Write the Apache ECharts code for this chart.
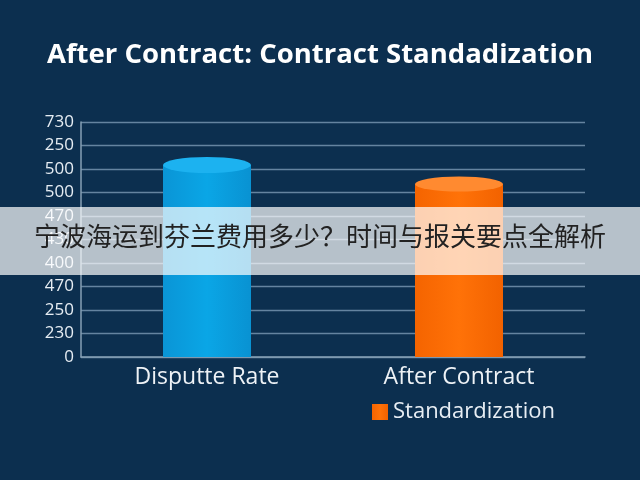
<!DOCTYPE html>
<html>
<head>
<meta charset="utf-8">
<script src="https://cdn.jsdelivr.net/npm/echarts@6/dist/echarts.min.js"></script>
<style>
html,body{margin:0;padding:0;background:#0c2f4f;}
#c{width:640px;height:480px;}
</style>
</head>
<body>
<div id="c"></div>
<script>
const titleText = 'After Contract: Contract Standadization';
const categories = ['Disputte Rate', 'After Contract'];
const yTickLabels = ['0', '230', '250', '470', '400', '430', '470', '500', '500', '250', '730'];
const disputeValues = [8.17, '-'];
const standardValues = ['-', 7.36];
const bannerText = '宁波海运到芬兰费用多少？时间与报关要点全解析';

const chart = echarts.init(document.getElementById('c'));
const barW = 88;
const blueGrad = new echarts.graphic.LinearGradient(0,0,1,0,[
  {offset:0,color:'#0a95d6'},{offset:0.5,color:'#0aa6e6'},{offset:1,color:'#0992d2'}]);
const orangeGrad = new echarts.graphic.LinearGradient(0,0,1,0,[
  {offset:0,color:'#f56400'},{offset:0.5,color:'#ff7208'},{offset:1,color:'#f26200'}]);
chart.setOption({
  backgroundColor:'#0c2f4f',
  title:{text:titleText,left:'center',top:36,
    textStyle:{color:'#ffffff',fontSize:27.5,fontWeight:'bold',fontFamily:'Open Sans'}},
  legend:{data:['Standardization'],left:367,top:396,icon:'rect',itemWidth:16,itemHeight:16,itemGap:6,
    textStyle:{color:'#e8eef4',fontSize:22,fontFamily:'Open Sans'}},
  grid:{left:81,right:55,top:122,bottom:123},
  xAxis:{type:'category',data:categories,
    axisLine:{lineStyle:{color:'#86a0b5',width:1.5}},axisTick:{show:false},
    axisLabel:{color:'#eef2f6',fontSize:23,margin:9,fontFamily:'Open Sans'}},
  yAxis:{type:'value',min:0,max:10,interval:1,
    axisLine:{show:true,lineStyle:{color:'#86a0b5',width:1.5}},axisTick:{show:false},
    splitLine:{lineStyle:{color:'#6584a0',width:1.3}},
    axisLabel:{color:'#e6edf3',fontSize:17,margin:7,fontFamily:'Open Sans',
      formatter:function(v){return yTickLabels[Math.round(v)];}}},
  series:[
    {name:'Disputte Rate',type:'bar',data:disputeValues,barWidth:barW,barGap:'-100%',
      itemStyle:{color:blueGrad},z:2},
    {name:'Standardization',type:'bar',data:standardValues,barWidth:barW,barGap:'-100%',
      itemStyle:{color:orangeGrad},z:2},
    {name:'top1',type:'pictorialBar',data:disputeValues,symbol:'circle',symbolSize:[barW,16],
      symbolPosition:'end',symbolOffset:[0,'-50%'],itemStyle:{color:'#1cb2f0'},z:3},
    {name:'top2',type:'pictorialBar',data:standardValues,symbol:'circle',symbolSize:[barW,15],
      symbolPosition:'end',symbolOffset:[0,'-50%'],itemStyle:{color:'#ff8a30'},z:3}
  ],
  graphic:[
    {type:'rect',left:0,top:207,z:100,shape:{width:640,height:68},
      style:{fill:'rgba(255,255,255,0.7)'}},
    {type:'text',left:'center',top:223,z:101,
      style:{text:bannerText,fill:'#222222',fontSize:26,fontFamily:'Noto Sans CJK SC'}}
  ]
});
</script>
</body>
</html>
